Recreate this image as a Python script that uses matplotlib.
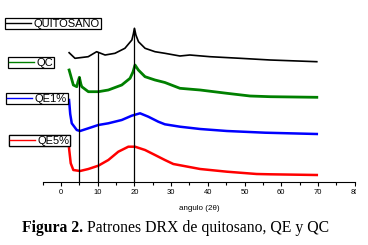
import numpy as np
import matplotlib.pyplot as plt
from matplotlib.patches import Rectangle

plt.rcParams['font.family'] = ['Liberation Sans', 'DejaVu Sans']

# patrones DRX (intensidad desplazada, u.a.)
x_quit = [2.2, 3.8, 7.4, 9.7, 12.0, 14.7, 17.4, 19.3, 19.7, 20.0, 20.4, 21.1, 22.9,
          25.6, 28.3, 32.4, 35.1, 40.6, 48.8, 57.0, 69.7]
y_quit = [129.3, 123.7, 125.3, 130.3, 127.0, 128.7, 133.7, 142.0, 148.0, 153.7, 147.0,
          140.3, 133.7, 130.3, 128.7, 126.0, 127.0, 125.3, 123.7, 122.0, 120.3]

x_qc = [2.2, 3.35, 4.28, 4.6, 5.0, 5.4, 5.64, 7.44, 10.16, 12.89, 16.54, 18.8, 19.6,
        20.16, 21.06, 22.89, 25.6, 28.3, 32.4, 37.9, 45.2, 51.5, 57.0, 69.7]
y_qc = [112.0, 97.0, 95.3, 100.0, 104.7, 98.0, 95.3, 90.3, 90.3, 92.0, 97.0, 103.7, 110.0,
        117.0, 112.0, 105.3, 102.0, 99.5, 93.7, 92.0, 88.7, 86.0, 85.3, 84.7]

x_qe1 = [2.18, 2.5, 2.92, 4.28, 5.18, 7.44, 10.16, 12.89, 16.54, 19.26, 21.53, 23.79,
         26.5, 28.3, 32.4, 37.9, 45.2, 55.6, 69.7]
y_qe1 = [82.0, 68.0, 58.7, 52.0, 51.0, 53.7, 57.0, 58.7, 62.0, 66.3, 68.7, 65.3,
         60.3, 57.7, 55.3, 53.0, 51.0, 49.3, 48.0]

x_qe5 = [2.18, 2.64, 3.35, 5.18, 7.44, 10.16, 12.89, 15.61, 18.34, 20.16, 22.89, 25.61,
         28.3, 30.6, 37.9, 45.2, 53.3, 57.0, 69.7]
y_qe5 = [33.7, 18.7, 12.0, 11.0, 13.0, 16.3, 22.0, 30.3, 35.3, 35.3, 32.0, 27.0,
         22.0, 18.0, 13.0, 10.3, 8.0, 7.7, 7.0]

fig = plt.figure(figsize=(3.68, 2.45), dpi=100)
ax = fig.add_axes([42.7 / 368, 63 / 245, 311.9 / 368, 182 / 245])

l_quit, = ax.plot(x_quit, y_quit, color='black', lw=1.2)
l_qc, = ax.plot(x_qc, y_qc, color='#008000', lw=2.0)
l_qe1, = ax.plot(x_qe1, y_qe1, color='#0000ff', lw=1.8)
l_qe5, = ax.plot(x_qe5, y_qe5, color='#ff0000', lw=1.8)

# lineas de referencia en 5, 10 y 20 grados
tops = [np.interp(5, x_qc, y_qc), np.interp(10, x_quit, y_quit), np.interp(20, x_quit, y_quit)]
ax.vlines([5, 10, 20], 0, tops, color='black', lw=0.9)

ax.set_xlim(-5, 80)
ax.set_ylim(0, 182)
ax.set_xticks(range(0, 81, 10))
ax.set_xticks(range(-5, 81, 5), minor=True)
ax.set_yticks([])
for s in ['left', 'right', 'top']:
    ax.spines[s].set_visible(False)
ax.spines['bottom'].set_linewidth(0.8)
ax.tick_params(axis='x', which='major', length=3, width=0.8, labelsize=5.5, pad=2)
ax.tick_params(axis='x', which='minor', length=2, width=0.8)

legs = [(l_quit, 'QUITOSANO', 5, 18), (l_qc, 'QC', 8, 57),
        (l_qe1, 'QE1%', 6, 93), (l_qe5, 'QE5%', 9, 135)]
for h, name, px, py in legs:
    lg = ax.legend([h], [name], loc='upper left', bbox_to_anchor=(px / 368, 1 - py / 245),
                   bbox_transform=fig.transFigure, fontsize=8, frameon=True, fancybox=False,
                   edgecolor='black', framealpha=1, borderpad=0.05, borderaxespad=0,
                   handlelength=2.3, handletextpad=0.25)
    lg.get_frame().set_linewidth(0.9)
    lg.get_lines()[0].set_linewidth(1.0)
    ax.add_artist(lg)

fig.text(199 / 368, 1 - 208 / 245, 'angulo (2θ)', ha='center', va='center', fontsize=5.8)

t1 = fig.text(22 / 368, 1 - 232 / 245, 'Figura 2.', fontsize=11.3, fontweight='bold',
              family='Liberation Serif', ha='left', va='baseline')
fig.canvas.draw()
ax.annotate(' Patrones DRX de quitosano, QE y QC', xy=(1, 0), xycoords=t1,
            fontsize=11.3, family='Liberation Serif', ha='left', va='bottom',
            annotation_clip=False)

# la imagen original corta la etiqueta "80" en el borde
fig.patches.append(Rectangle((356 / 368, 1 - 200 / 245), 12 / 368, 15 / 245,
                             transform=fig.transFigure, facecolor='white',
                             edgecolor='none', zorder=10))

fig.savefig('out.png', dpi=100)
